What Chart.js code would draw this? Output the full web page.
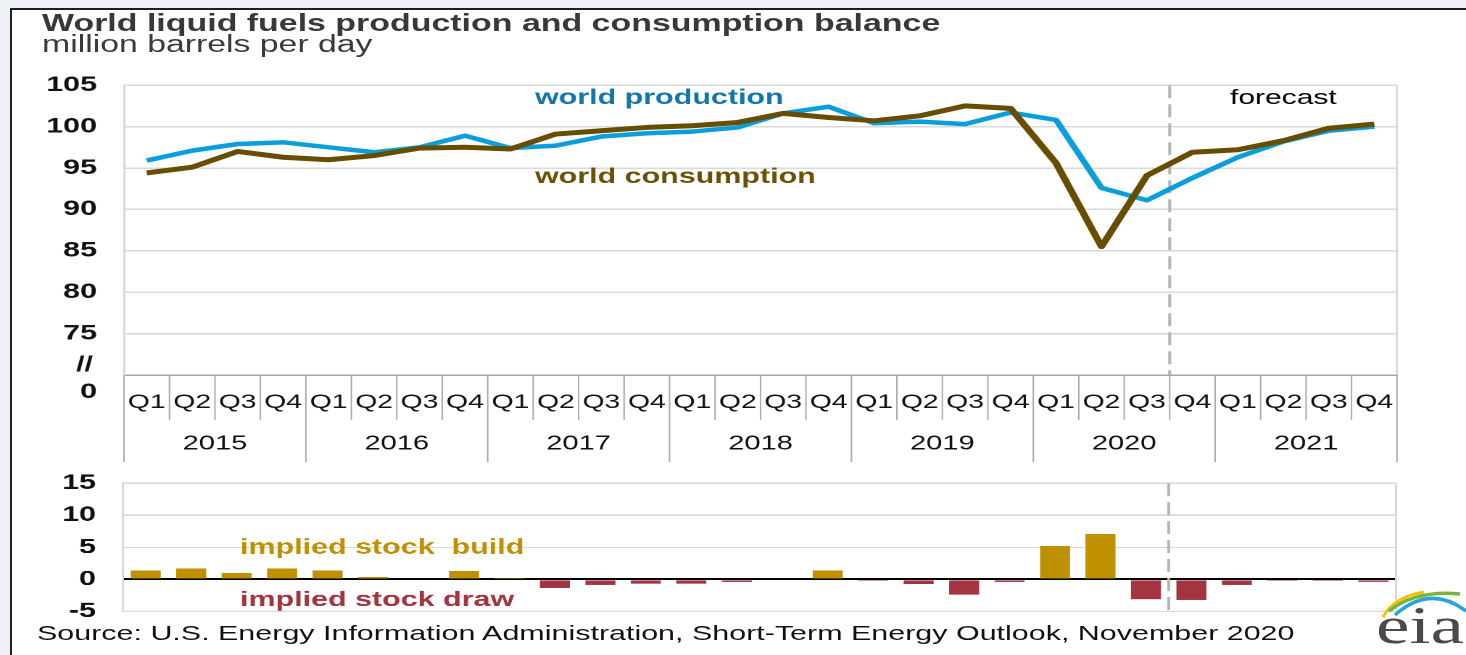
<!DOCTYPE html>
<html>
<head>
<meta charset="utf-8">
<script src="https://cdn.jsdelivr.net/npm/chart.js@4.4.0/dist/chart.umd.min.js"></script>
<style>
  html, body { margin: 0; padding: 0; background: #eef2f8; }
  #page { position: relative; width: 1466px; height: 655px; overflow: hidden; background: #eef2f8; }
  #panel { position: absolute; left: 10px; top: 8px; width: 1500px; height: 700px; background: #fff;
           border-left: 2px solid #1e1e1e; border-top: 2px solid #1e1e1e; }
  /* the reference is stretched sideways, so everything is laid out narrow and scaled */
  #stretch { position: absolute; left: 0; top: 0; width: 1011px; height: 655px;
             transform: scaleX(1.45005); transform-origin: 0 0;
             font-family: "Liberation Sans", Arial, sans-serif; }
  .txt { position: absolute; white-space: nowrap; line-height: 1; }
  #title { left: 29px; top: 12px; font-size: 23.4px; font-weight: bold; color: #383838; }
  #subtitle { left: 29px; top: 33px; font-size: 23.3px; color: #3a3a3a; }
  #source { left: 25.5px; top: 621.5px; font-size: 21px; color: #111; }
  #eia { left: 949px; top: 600px; font-size: 52px; color: #4a4a4a; font-family: "Liberation Serif", "DejaVu Serif", serif; }
  .box { position: absolute; left: 0; width: 1011px; }
  #topBox { top: 54px; height: 412px; }
  #bottomBox { top: 451.7px; height: 205.6px; }
  #logo { position: absolute; left: 1378px; top: 575px; }
</style>
</head>
<body>
<div id="page">
  <div id="panel"></div>
  <div id="stretch">
    <div class="txt" id="title">World liquid fuels production and consumption balance</div>
    <div class="txt" id="subtitle">million barrels per day</div>
    <div class="box" id="topBox"><canvas id="topChart"></canvas></div>
    <div class="box" id="bottomBox"><canvas id="bottomChart"></canvas></div>
    <div class="txt" id="source">Source: U.S. Energy Information Administration, Short-Term Energy Outlook, November 2020</div>
    <div class="txt" id="eia">eia</div>
  </div>
  <svg id="logo" width="88" height="50" viewBox="0 0 88 50">
    <path d="M 5 42 Q 16 22 46 17" fill="none" stroke="#f3c300" stroke-width="3"/>
    <path d="M 11 36 Q 38 15 82 19" fill="none" stroke="#78b43c" stroke-width="3.5"/>
    <path d="M 17 40 Q 52 9 88 36" fill="none" stroke="#27a4de" stroke-width="3.5"/>
  </svg>
</div>

<script>
// Dáta
const years = ['2015', '2016', '2017', '2018', '2019', '2020', '2021'];
const quarters = ['Q1', 'Q2', 'Q3', 'Q4'];

const production = [95.9, 97.1, 97.9, 98.1, 97.5, 96.9, 97.5, 98.9, 97.4, 97.7, 98.8, 99.2, 99.4, 99.9,
                    101.6, 102.4, 100.4, 100.6, 100.3, 101.7, 100.8, 92.6, 91.1, 93.8, 96.3, 98.2, 99.5, 100.0];
const consumption = [94.4, 95.1, 97.0, 96.3, 96.0, 96.5, 97.4, 97.5, 97.3, 99.1, 99.5, 99.9, 100.1, 100.5,
                     101.6, 101.1, 100.7, 101.3, 102.5, 102.2, 95.6, 85.5, 94.1, 96.9, 97.2, 98.3, 99.8, 100.3];
const stockChange = [1.4, 1.7, 1.0, 1.7, 1.4, 0.4, 0.0, 1.35, 0.2, -1.35, -0.85, -0.65, -0.65, -0.4,
                     0.15, 1.4, -0.25, -0.75, -2.35, -0.4, 5.25, 7.1, -3.1, -3.2, -0.85, -0.25, -0.25, -0.35];

const topTicks = [70, 75, 80, 85, 90, 95, 100, 105];
const bottomTicks = [-5, 0, 5, 10, 15];
const forecastStart = 23; // Q4 2020

const labels = [];
years.forEach(y => quarters.forEach(q => labels.push(q)));

// Nastavenie vzhľadu
const SX = 1466 / 1011;
const fx = x => x / SX;
const FONT = "'Liberation Sans', Arial, sans-serif";
const GRID = '#d9d9d9';
const GOLD = '#bf9000';
const RED = '#a33441';

function boundaryX(scale, i) {
    const step = scale.getPixelForValue(1) - scale.getPixelForValue(0);
    return scale.getPixelForValue(0) - step / 2 + i * step;
}

function drawForecastLine(chart) {
    const { ctx, chartArea: a, scales: { x } } = chart;
    const xf = boundaryX(x, forecastStart);
    ctx.save();
    ctx.strokeStyle = '#b5b5b5';
    ctx.lineWidth = 2;
    ctx.setLineDash([13, 6]);
    ctx.beginPath();
    ctx.moveTo(xf, a.top);
    ctx.lineTo(xf, a.bottom);
    ctx.stroke();
    ctx.restore();
}

function drawRightBorder(chart) {
    const { ctx, chartArea: a } = chart;
    ctx.save();
    ctx.strokeStyle = GRID;
    ctx.lineWidth = 1.5;
    ctx.beginPath();
    ctx.moveTo(a.right, a.top);
    ctx.lineTo(a.right, a.bottom);
    ctx.stroke();
    ctx.restore();
}

const topDecor = {
    id: 'topDecor',
    beforeDatasetsDraw(chart) {
        drawRightBorder(chart);
        drawForecastLine(chart);
    },
    afterDraw(chart) {
        const { ctx, chartArea: a, scales: { x } } = chart;
        const top = a.top - 84; // canvas y of final pixel 0
        ctx.save();
        // oddeľovače štvrťrokov a rokov
        ctx.strokeStyle = '#a9a9a9';
        ctx.lineWidth = 1;
        for (let i = 0; i <= labels.length; i++) {
            const bx = boundaryX(x, i);
            const len = (i % 4 === 0) ? 87 : 45;
            ctx.beginPath();
            ctx.moveTo(bx, a.bottom);
            ctx.lineTo(bx, a.bottom + len);
            ctx.stroke();
        }
        ctx.fillStyle = '#111';
        ctx.font = '20px ' + FONT;
        ctx.textAlign = 'center';
        ctx.textBaseline = 'middle';
        years.forEach((y, i) => {
            const cx = (boundaryX(x, i * 4) + boundaryX(x, i * 4 + 4)) / 2;
            ctx.fillText(y, cx, a.bottom + 69);
        });
        // prerušená os
        ctx.textAlign = 'right';
        ctx.font = 'bold 21px ' + FONT;
        ctx.fillText('//', fx(93), a.bottom - 10);
        ctx.fillText('0', fx(97), a.bottom + 17);
        // popisy
        ctx.textAlign = 'left';
        ctx.textBaseline = 'alphabetic';
        ctx.fillStyle = '#1276a9';
        ctx.fillText('world production', fx(535), top + 103);
        ctx.fillStyle = '#6b5106';
        ctx.fillText('world consumption', fx(535), top + 182);
        ctx.fillStyle = '#000';
        ctx.font = '20.7px ' + FONT;
        ctx.fillText('forecast', fx(1230), top + 103);
        ctx.restore();
    }
};

const bottomDecor = {
    id: 'bottomDecor',
    beforeDatasetsDraw(chart) {
        drawRightBorder(chart);
        drawForecastLine(chart);
    },
    afterDatasetsDraw(chart) {
        const { ctx, chartArea: a } = chart;
        const top = a.top - 481.7; // canvas y of final pixel 0
        ctx.save();
        ctx.font = 'bold 21px ' + FONT;
        ctx.textAlign = 'left';
        ctx.textBaseline = 'alphabetic';
        ctx.fillStyle = GOLD;
        ctx.fillText('implied stock  build', fx(240), top + 552.5);
        ctx.fillStyle = RED;
        ctx.fillText('implied stock draw', fx(240), top + 605);
        ctx.restore();
    }
};

function createTopChart() {
    const ctx = document.getElementById('topChart').getContext('2d');
    new Chart(ctx, {
        type: 'line',
        data: {
            labels: labels,
            datasets: [{
                label: 'world production',
                data: production,
                borderColor: '#0a9fdb',
                borderWidth: 4.5,
                pointRadius: 0,
                tension: 0,
                borderJoinStyle: 'round',
                order: 2
            }, {
                label: 'world consumption',
                data: consumption,
                borderColor: '#674d00',
                borderWidth: 5,
                pointRadius: 0,
                tension: 0,
                borderJoinStyle: 'round',
                order: 1
            }]
        },
        options: {
            responsive: true,
            maintainAspectRatio: false,
            animation: false,
            devicePixelRatio: 2,
            layout: { padding: { top: 14, right: 1011 - fx(1397), bottom: 0, left: 0 } },
            plugins: { legend: { display: false }, tooltip: { enabled: false } },
            scales: {
                x: {
                    offset: true,
                    grid: { display: false, drawTicks: false },
                    border: { display: true, color: '#a6a6a6', width: 1.5 },
                    ticks: {
                        autoSkip: false,
                        maxRotation: 0,
                        padding: 16,
                        color: '#111',
                        font: { size: 19.5, family: FONT }
                    },
                    afterFit: axis => { axis.height = 91; }
                },
                y: {
                    min: topTicks[0],
                    max: topTicks[topTicks.length - 1],
                    afterBuildTicks: axis => { axis.ticks = topTicks.map(v => ({ value: v })); },
                    grid: { color: GRID, lineWidth: 1.5, drawTicks: false },
                    border: { display: true, color: GRID, width: 1.5 },
                    ticks: {
                        padding: 18.6,
                        color: '#111',
                        font: { size: 21, weight: 'bold', family: FONT },
                        callback: v => (v === topTicks[0] ? '' : v)
                    },
                    afterFit: axis => { axis.width = fx(124); }
                }
            }
        },
        plugins: [topDecor]
    });
}

function createBottomChart() {
    const ctx = document.getElementById('bottomChart').getContext('2d');
    new Chart(ctx, {
        type: 'bar',
        data: {
            labels: labels,
            datasets: [{
                label: 'implied stock change',
                data: stockChange,
                backgroundColor: stockChange.map(v => (v >= 0 ? GOLD : RED)),
                borderWidth: 0,
                categoryPercentage: 1,
                barPercentage: 0.66
            }]
        },
        options: {
            responsive: true,
            maintainAspectRatio: false,
            animation: false,
            devicePixelRatio: 2,
            layout: { padding: { top: 15.7, right: 1011 - fx(1396), bottom: 45.7, left: 0 } },
            plugins: { legend: { display: false }, tooltip: { enabled: false } },
            scales: {
                x: { display: false },
                y: {
                    min: bottomTicks[0],
                    max: bottomTicks[bottomTicks.length - 1],
                    afterBuildTicks: axis => { axis.ticks = bottomTicks.map(v => ({ value: v })); },
                    grid: {
                        drawTicks: false,
                        color: c => (c.tick && c.tick.value === 0 ? '#000' : GRID),
                        lineWidth: c => (c.tick && c.tick.value === 0 ? 2 : 1.5)
                    },
                    border: { display: true, color: GRID, width: 1.5 },
                    ticks: {
                        padding: 18.6,
                        color: '#111',
                        font: { size: 21, weight: 'bold', family: FONT }
                    },
                    afterFit: axis => { axis.width = fx(123); }
                }
            }
        },
        plugins: [bottomDecor]
    });
}

window.addEventListener('load', () => {
    createTopChart();
    createBottomChart();
});
</script>
</body>
</html>
